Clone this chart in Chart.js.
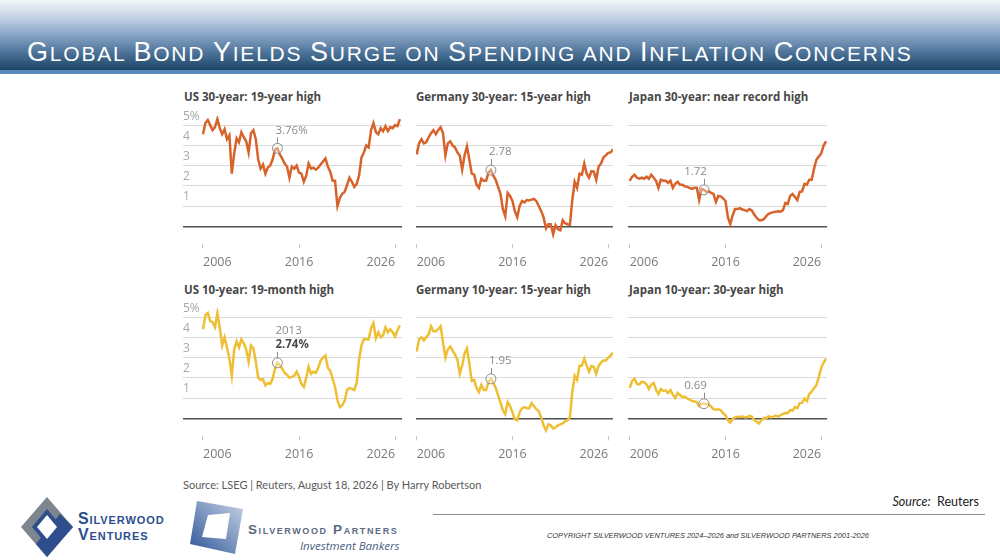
<!DOCTYPE html>
<html lang="en">
<head>
<meta charset="utf-8">
<title>Global Bond Yields</title>
<script src="https://cdn.jsdelivr.net/npm/chart.js@4.4.1/dist/chart.umd.min.js"></script>
<style>
  html, body { margin: 0; padding: 0; background: #fff; }
  body { width: 1000px; height: 560px; position: relative; overflow: hidden; font-family: "Open Sans", sans-serif; }
  .banner { position: absolute; left: 0; top: 0; width: 1000px; height: 70px;
    background: linear-gradient(180deg, #f3f6fa 0%, #c3d2e4 25%, #88a5c6 50%, #4d7399 75%, #1b4566 100%); }
  .banner-line { position: absolute; left: 0; top: 70px; width: 1000px; height: 4px; background: #5a8bbd; }
  .headline { position: absolute; left: 27px; top: 39px; color: #fff; font: 21px/27px "Liberation Sans", Arial, sans-serif;
    letter-spacing: 1.8px; white-space: nowrap; }
  .headline b { font-weight: 400; font-size: 27px; }
  .ptitle { position: absolute; font: 700 11.5px/14px "Open Sans", sans-serif; color: #474747; white-space: nowrap; }
  .panel { position: absolute; }
  .source { position: absolute; left: 183px; top: 478px; font: 11px/13px Lato, sans-serif; color: #5a5a5a; white-space: nowrap; }
  .src-right { position: absolute; right: 21px; top: 494px; font: 12.5px/15px Lato, sans-serif; color: #222; white-space: nowrap; }
  .rule { position: absolute; left: 433px; top: 514px; width: 552px; height: 1px; background: #8a8a8a; }
  .copy { position: absolute; left: 547px; top: 531px; font: italic 7.4px/9px "Liberation Sans", Arial, sans-serif; color: #333; white-space: nowrap; }
  .logo-text { position: absolute; font-family: "Liberation Sans", Arial, sans-serif; font-weight: 700; font-variant: small-caps; white-space: nowrap; }
</style>
</head>
<body>
<div class="banner"></div>
<div class="banner-line"></div>
<div class="headline"><b>G</b>LOBAL <b>B</b>OND <b>Y</b>IELDS <b>S</b>URGE ON <b>S</b>PENDING AND <b>I</b>NFLATION <b>C</b>ONCERNS</div>

<div class="ptitle" style="left:184px;top:90px">US 30-year: 19-year high</div>
<div class="ptitle" style="left:416px;top:90px">Germany 30-year: 15-year high</div>
<div class="ptitle" style="left:629px;top:90px">Japan 30-year: near record high</div>
<div class="ptitle" style="left:184px;top:283px">US 10-year: 19-month high</div>
<div class="ptitle" style="left:416px;top:283px">Germany 10-year: 15-year high</div>
<div class="ptitle" style="left:629px;top:283px">Japan 10-year: 30-year high</div>

<div class="panel" style="left:183px;top:104px;width:219px;height:172px"><canvas id="us30"></canvas></div>
<div class="panel" style="left:416px;top:104px;width:197px;height:172px"><canvas id="de30"></canvas></div>
<div class="panel" style="left:628px;top:104px;width:199px;height:172px"><canvas id="jp30"></canvas></div>
<div class="panel" style="left:183px;top:296px;width:219px;height:172px"><canvas id="us10"></canvas></div>
<div class="panel" style="left:416px;top:296px;width:197px;height:172px"><canvas id="de10"></canvas></div>
<div class="panel" style="left:628px;top:296px;width:199px;height:172px"><canvas id="jp10"></canvas></div>

<div class="source">Source: LSEG | Reuters, August 18, 2026 | By Harry Robertson</div>
<div class="src-right"><i>Source:</i>&nbsp; Reuters</div>
<div class="rule"></div>
<div class="copy">COPYRIGHT SILVERWOOD VENTURES 2024–2026 and SILVERWOOD PARTNERS 2001-2026</div>

<svg style="position:absolute;left:20px;top:496px" width="54" height="62" viewBox="0 0 54 62">
  <polygon points="27,1 53,31 27,61 1,31" fill="#7d858e"/>
  <polygon points="53,31 27,61 16,48 40,18" fill="#2d4d8c"/>
  <polygon points="27,13 42,31 27,49 12,31" fill="#2d4d8c"/>
  <polygon points="27,19 37,31 27,43 17,31" fill="#fff"/>
</svg>
<div class="logo-text" style="left:78px;top:510px;font-size:16px;color:#2b4f8e;letter-spacing:0.9px">Silverwood</div>
<div class="logo-text" style="left:78px;top:526px;font-size:16px;color:#2b4f8e;letter-spacing:0.9px">Ventures</div>

<svg style="position:absolute;left:188px;top:499px" width="57" height="57" viewBox="0 0 57 57">
  <defs>
    <linearGradient id="pg" x1="0" y1="1" x2="1" y2="0">
      <stop offset="0" stop-color="#2e5597"/>
      <stop offset="1" stop-color="#c7d3e6"/>
    </linearGradient>
  </defs>
  <polygon points="9,2 55,10 47,55 2,45" fill="url(#pg)"/>
  <polygon points="20,16 42,14 38,40 14,38" fill="#fff"/>
</svg>
<div class="logo-text" style="left:248px;top:522px;font-size:13.5px;color:#5b6a82;letter-spacing:1.6px">Silverwood Partners</div>
<div style="position:absolute;left:300px;top:539px;font:italic 11.5px/14px 'Open Sans',sans-serif;color:#4b5e85">Investment Bankers</div>

<script>
// quarterly observation dates, shared by all six panels
const dates = [2006, 2006.25, 2006.5, 2006.75, 2007, 2007.25, 2007.5, 2007.75, 2008, 2008.25, 2008.5, 2008.75,
  2009, 2009.25, 2009.5, 2009.75, 2010, 2010.25, 2010.5, 2010.75, 2011, 2011.25, 2011.5, 2011.75,
  2012, 2012.25, 2012.5, 2012.75, 2013, 2013.25, 2013.5, 2013.75, 2014, 2014.25, 2014.5, 2014.75,
  2015, 2015.25, 2015.5, 2015.75, 2016, 2016.25, 2016.5, 2016.75, 2017, 2017.25, 2017.5, 2017.75,
  2018, 2018.25, 2018.5, 2018.75, 2019, 2019.25, 2019.5, 2019.75, 2020, 2020.25, 2020.5, 2020.75,
  2021, 2021.25, 2021.5, 2021.75, 2022, 2022.25, 2022.5, 2022.75, 2023, 2023.25, 2023.5, 2023.75,
  2024, 2024.25, 2024.5, 2024.75, 2025, 2025.25, 2025.5, 2025.75, 2026, 2026.25, 2026.5];

// yields, %
const us30 = [4.55, 5.1, 5.25, 5.0, 4.75, 4.9, 5.3, 4.85, 4.55, 4.8, 4.3, 4.5, 2.6, 3.6, 4.35, 4.15, 4.65, 4.4, 4.2, 3.65,
  4.6, 4.75, 4.3, 3.3, 2.85, 3.05, 2.6, 2.9, 3.0, 3.3, 3.8, 3.85, 3.55, 3.35, 3.1, 2.95, 2.4, 2.95, 2.85, 3.0,
  2.65, 2.6, 2.2, 2.5, 3.1, 2.85, 2.9, 2.8, 2.9, 3.05, 3.2, 3.35, 2.95, 2.7, 2.25, 2.25, 1.0, 1.4, 1.6, 1.7,
  2.05, 2.4, 2.2, 1.95, 2.1, 2.5, 3.4, 3.65, 4.0, 3.9, 4.75, 5.1, 4.65, 4.55, 4.85, 4.7, 4.95, 4.7, 4.9, 4.85,
  5.0, 4.95, 5.3];
const de30 = [3.55, 4.1, 4.3, 4.1, 4.15, 4.4, 4.6, 4.75, 4.55, 4.75, 4.9, 4.6, 3.5, 4.1, 4.2, 4.0, 3.9, 3.65, 3.5, 2.8,
  3.5, 3.95, 3.3, 2.6, 2.55, 2.06, 1.9, 2.35, 2.25, 2.25, 2.65, 2.78, 2.5, 2.3, 1.95, 1.6, 0.85, 0.5, 1.65, 1.5,
  1.25, 0.75, 0.45, 1.0, 1.25, 1.18, 1.3, 1.28, 1.32, 1.35, 1.24, 1.0, 0.75, 0.45, -0.1, 0.1, 0.1, -0.4, 0.05, -0.15,
  -0.2, 0.3, 0.15, 0.1, 0.08, 1.3, 2.2, 1.9, 2.6, 2.55, 3.1, 2.6, 2.4, 2.72, 2.7, 2.3, 2.95, 3.1, 3.4, 3.5,
  3.63, 3.65, 3.8];
const jp30 = [2.25, 2.45, 2.55, 2.4, 2.35, 2.4, 2.35, 2.45, 2.35, 2.55, 2.4, 2.25, 1.9, 2.3, 2.25, 2.25, 2.15, 2.25, 1.9, 2.1,
  2.2, 2.05, 2.05, 1.98, 1.95, 1.9, 1.85, 1.9, 1.9, 1.3, 1.85, 1.8, 1.7, 1.73, 1.65, 1.6, 1.2, 1.5, 1.48, 1.38,
  1.25, 0.45, 0.1, 0.55, 0.85, 0.85, 0.9, 0.83, 0.8, 0.75, 0.85, 0.78, 0.58, 0.42, 0.3, 0.3, 0.35, 0.5, 0.62, 0.66,
  0.7, 0.72, 0.74, 0.72, 0.8, 1.15, 1.1, 1.5, 1.6, 1.45, 1.3, 1.7, 1.72, 2.1, 2.06, 2.3, 2.3, 2.85, 3.3, 3.45,
  3.6, 4.0, 4.2];
const us10 = [4.4, 5.1, 5.2, 4.8, 4.75, 4.5, 5.2, 4.47, 3.6, 4.0, 3.5, 2.95, 2.1, 3.4, 3.8, 3.5, 3.9, 3.7, 3.4, 2.8,
  3.6, 3.45, 2.8, 2.0, 1.9, 1.92, 1.62, 1.75, 1.7, 1.95, 2.45, 2.74, 2.62, 2.45, 2.25, 2.15, 2.0, 2.05, 2.1, 2.3,
  2.05, 1.7, 1.55, 2.0, 2.55, 2.2, 2.3, 2.25, 2.5, 2.85, 3.0, 3.1, 2.5, 2.35, 1.95, 1.55, 0.9, 0.55, 0.65, 0.85,
  1.4, 1.5, 1.45, 1.4, 1.75, 2.9, 3.6, 3.9, 3.9, 3.9, 4.45, 4.7, 3.95, 4.25, 4.0, 4.1, 4.5, 4.25, 4.4, 4.25,
  4.05, 4.35, 4.6];
const de10 = [3.3, 3.9, 4.0, 3.85, 4.0, 4.15, 4.55, 4.3, 4.3, 4.4, 4.55, 3.75, 3.0, 3.4, 3.55, 3.35, 3.15, 2.9, 2.2, 2.6,
  3.2, 3.45, 2.7, 1.85, 1.9, 1.5, 1.3, 1.65, 1.4, 1.4, 1.8, 1.95, 1.76, 1.5, 1.15, 0.77, 0.4, 0.2, 0.8, 0.6,
  0.3, -0.05, -0.1, 0.3, 0.5, 0.55, 0.5, 0.5, 0.75, 0.6, 0.45, 0.35, 0.05, -0.35, -0.6, -0.3, -0.35, -0.5, -0.45, -0.35,
  -0.3, -0.25, -0.15, -0.1, 0.05, 1.3, 2.1, 1.9, 2.6, 2.6, 2.95, 2.6, 2.3, 2.58, 2.55, 2.2, 2.6, 2.75, 2.85, 2.85,
  3.0, 3.1, 3.25];
const jp10 = [1.5, 1.85, 1.95, 1.7, 1.68, 1.8, 1.78, 1.68, 1.45, 1.67, 1.75, 1.4, 1.2, 1.45, 1.35, 1.38, 1.25, 1.4, 1.17, 1.0,
  1.25, 1.15, 1.05, 1.07, 0.98, 0.92, 0.86, 0.83, 0.8, 0.6, 0.73, 0.72, 0.7, 0.68, 0.57, 0.45, 0.42, 0.45, 0.4, 0.25,
  0.15, -0.1, -0.22, -0.03, 0.05, 0.08, 0.06, 0.1, 0.05, 0.05, 0.12, 0.08, -0.08, -0.17, -0.26, -0.1, 0.02, 0.0, 0.1, 0.04,
  0.08, 0.13, 0.08, 0.15, 0.22, 0.26, 0.25, 0.4, 0.38, 0.55, 0.5, 0.75, 0.76, 0.97, 0.85, 1.2, 1.32, 1.5, 1.65, 2.05,
  2.5, 2.75, 2.95];

const yearTicks = [2006, 2016, 2026];
const yTicks = [0, 1, 2, 3, 4, 5];
const yTickLabels = ['', '1', '2', '3', '4', '5%'];

const ORANGE = '#d8632a';
const YELLOW = '#efbf33';

Chart.defaults.font.family = '"Open Sans", sans-serif';

// circle + leader + value label on one marked observation
function calloutPlugin(c) {
  return {
    id: 'callout',
    afterDatasetsDraw(chart) {
      const pt = chart.getDatasetMeta(0).data[c.index];
      const px = pt.x, py = pt.y;
      const ctx = chart.ctx;
      ctx.save();
      ctx.beginPath();
      ctx.arc(px, py, 5, 0, Math.PI * 2);
      ctx.fillStyle = 'rgba(255,255,255,0.35)';
      ctx.fill();
      ctx.strokeStyle = '#8c8c8c';
      ctx.lineWidth = 1;
      ctx.stroke();
      ctx.beginPath();
      ctx.moveTo(Math.round(px) + 0.5, py - 5);
      ctx.lineTo(Math.round(px) + 0.5, py - 11);
      ctx.stroke();
      ctx.textBaseline = 'middle';
      ctx.textAlign = c.side;
      const tx = c.side === 'left' ? px - 2 : px + 3;
      let ty = py - 18;
      for (let i = c.lines.length - 1; i >= 0; i--) {
        const ln = c.lines[i];
        ctx.font = (ln.bold ? '700 ' : '400 ') + '11.5px "Open Sans"';
        ctx.fillStyle = ln.bold ? '#4a4a4a' : '#8a8a8a';
        ctx.fillText(ln.text, tx, ty);
        ty -= 14;
      }
      ctx.restore();
    }
  };
}

function drawPanel(id, values, color, xMin, xMax, showY, callout) {
  new Chart(document.getElementById(id), {
    type: 'line',
    data: {
      datasets: [{
        data: values.map((v, i) => ({ x: dates[i], y: v })),
        borderColor: color,
        borderWidth: 2.5,
        pointRadius: 0,
        tension: 0,
        fill: false
      }]
    },
    options: {
      responsive: true,
      maintainAspectRatio: false,
      animation: false,
      events: [],
      layout: { padding: { top: 12, left: 0, right: 0, bottom: 0 } },
      plugins: { legend: { display: false }, tooltip: { enabled: false } },
      scales: {
        x: {
          type: 'linear', min: xMin, max: xMax,
          afterBuildTicks: s => { s.ticks = yearTicks.map(v => ({ value: v })); },
          grid: { drawOnChartArea: false, drawTicks: true, tickLength: 5, color: '#c8c8c8' },
          border: { display: false },
          ticks: {
            align: 'inner', padding: 0, maxRotation: 0, autoSkip: false,
            color: '#7a7a7a', font: { size: 12.5, lineHeight: 2.2 },
            callback: v => String(v)
          }
        },
        y: {
          min: -0.85, max: 5.45,
          afterBuildTicks: s => { s.ticks = yTicks.map(v => ({ value: v })); },
          grid: {
            drawTicks: false,
            color: c => (c.tick && c.tick.value === 0 ? '#4d4d4d' : '#dadada'),
            lineWidth: c => (c.tick && c.tick.value === 0 ? 1.5 : 1)
          },
          border: { display: false },
          ticks: {
            display: showY, mirror: true, padding: 0, labelOffset: -9,
            color: '#a8a8a8', font: { size: 12 },
            callback: v => yTickLabels[yTicks.indexOf(v)]
          }
        }
      }
    },
    plugins: [calloutPlugin(callout)]
  });
}

drawPanel('us30', us30, ORANGE, 2003.92, 2026.72, true,
  { index: 31, side: 'left', lines: [{ text: '3.76%' }] });
drawPanel('de30', de30, ORANGE, 2005.93, 2026.5, false,
  { index: 31, side: 'left', lines: [{ text: '2.78' }] });
drawPanel('jp30', jp30, ORANGE, 2005.82, 2026.6, false,
  { index: 31, side: 'right', lines: [{ text: '1.72' }] });
drawPanel('us10', us10, YELLOW, 2003.92, 2026.72, true,
  { index: 31, side: 'left', lines: [{ text: '2013' }, { text: '2.74%', bold: true }] });
drawPanel('de10', de10, YELLOW, 2005.93, 2026.5, false,
  { index: 31, side: 'left', lines: [{ text: '1.95' }] });
drawPanel('jp10', jp10, YELLOW, 2005.82, 2026.6, false,
  { index: 31, side: 'right', lines: [{ text: '0.69' }] });
</script>
</body>
</html>
